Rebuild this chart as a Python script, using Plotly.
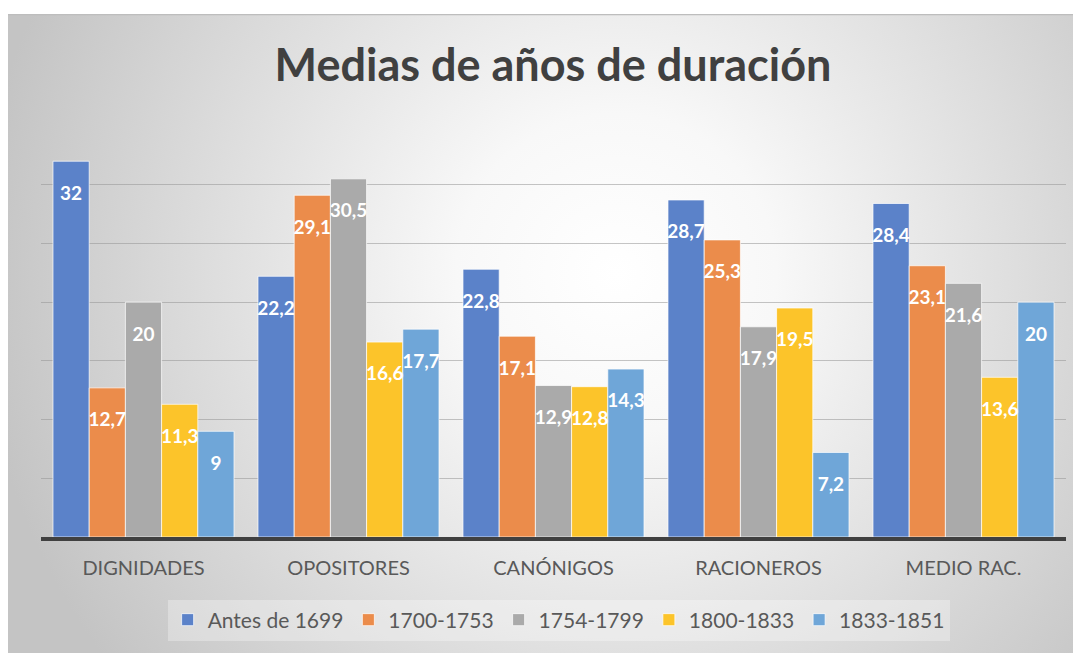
import plotly.graph_objects as go
import urllib.parse

categories = ["DIGNIDADES", "OPOSITORES", "CANÓNIGOS", "RACIONEROS", "MEDIO RAC."]
series_names = ["Antes de 1699", "1700-1753", "1754-1799", "1800-1833", "1833-1851"]
antes_1699 = [32, 22.2, 22.8, 28.7, 28.4]
s_1700_1753 = [12.7, 29.1, 17.1, 25.3, 23.1]
s_1754_1799 = [20, 30.5, 12.9, 17.9, 21.6]
s_1800_1833 = [11.3, 16.6, 12.8, 19.5, 13.6]
s_1833_1851 = [9, 17.7, 14.3, 7.2, 20]
series_values = [antes_1699, s_1700_1753, s_1754_1799, s_1800_1833, s_1833_1851]
colors = ["#5b82c9", "#eb8c4b", "#aaaaaa", "#fcc42a", "#6fa6d8"]

def fmt(v):
    return ("%g" % v).replace(".", ",")

fig = go.Figure()
for name, vals, col in zip(series_names, series_values, colors):
    fig.add_trace(go.Bar(
        name=name, x=categories, y=vals, offsetgroup=name,
        marker=dict(color=col, line=dict(color="rgba(255,255,255,0.7)", width=1)),
    ))
# data labels: grouped scatter text placed just below each bar top
for name, vals in zip(series_names, series_values):
    fig.add_trace(go.Scatter(
        name=name, x=categories, y=vals, offsetgroup=name,
        mode="markers+text", text=[fmt(v) for v in vals],
        textposition="bottom center",
        marker=dict(size=37, opacity=0),
        textfont=dict(family="Lato", size=19, color="white", weight="bold"),
        showlegend=False, hoverinfo="skip", cliponaxis=False,
    ))

# page has an 8px body margin; figure is sized to fill the rest of the window
W, H = 1073, 645
L, R, T, B = 33, 15, 118, 116
pw, ph = W - L - R, H - T - B

svg = ('<svg xmlns="http://www.w3.org/2000/svg" width="1075" height="639" viewBox="0 0 1075 639">'
       '<defs><radialGradient id="g" cx="610" cy="260" r="640" gradientUnits="userSpaceOnUse">'
       '<stop offset="0" stop-color="#ffffff"/><stop offset="0.25" stop-color="#f8f8f8"/>'
       '<stop offset="1" stop-color="#c4c4c4"/></radialGradient></defs>'
       '<rect width="1075" height="639" fill="url(#g)"/>'
       '<line x1="0" y1="0.5" x2="1075" y2="0.5" stroke="#bdbdbd" stroke-width="1.5"/></svg>')
src = "data:image/svg+xml;charset=utf-8," + urllib.parse.quote(svg)

fig.add_layout_image(dict(
    source=src, xref="paper", yref="paper",
    x=(-2 - L) / pw, y=(H - B - 6) / ph,
    sizex=(W + 2) / pw, sizey=(H - 6) / ph,
    xanchor="left", yanchor="top", sizing="stretch", layer="below",
))

fig.update_layout(
    width=W, height=H,
    margin=dict(l=L, r=R, t=T, b=B),
    paper_bgcolor="white", plot_bgcolor="rgba(0,0,0,0)",
    barmode="group", bargap=0.117, bargroupgap=0.0,
    scattermode="group", scattergap=0.117,
    title=dict(text="<b>Medias de años de duración</b>", x=545 / W, xanchor="center",
               y=1 - 57 / H, yanchor="middle",
               font=dict(family="Lato", size=45, color="#404040")),
    font=dict(family="Lato", color="#595959"),
    showlegend=True,
    legend=dict(orientation="h", x=0.505, xanchor="center", y=-83 / ph, yanchor="middle",
                bgcolor="rgba(255,255,255,0.3)", font=dict(size=21, color="#595959"),
                itemwidth=30, traceorder="normal"),
    xaxis=dict(showgrid=False, ticks="", tickfont=dict(size=20, color="#595959"),
               ticklabelstandoff=10,
               showline=True, linecolor="#404040", linewidth=4),
    yaxis=dict(range=[0, 35], dtick=5, showticklabels=False, showgrid=True,
               gridcolor="rgba(150,150,150,0.55)", gridwidth=1, zeroline=False,
               showline=False, ticks=""),
)

fig.write_html("out.html")
